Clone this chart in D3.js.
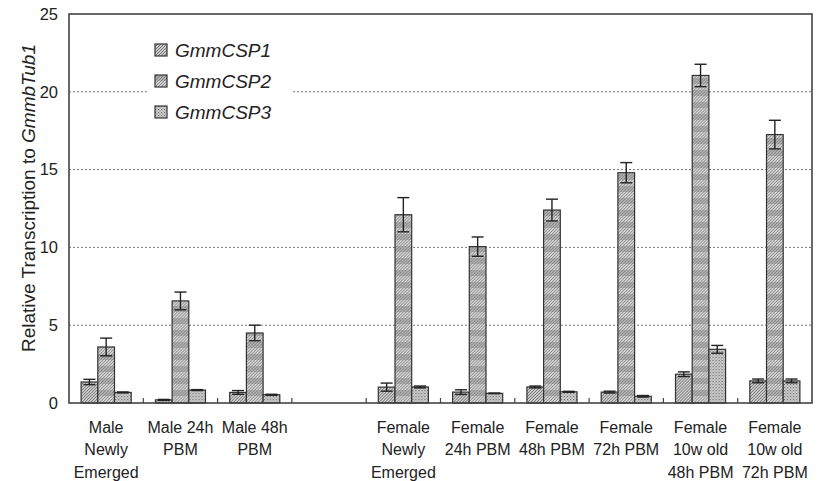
<!DOCTYPE html>
<html>
<head>
<meta charset="utf-8">
<script src="https://cdn.jsdelivr.net/npm/d3@7"></script>
<style>
  body { margin: 0; background: #fff; }
  svg { display: block; font-family: "Liberation Sans", Arial, sans-serif; }
</style>
</head>
<body>
<svg id="chart" width="817" height="481"></svg>
<script>
// categories (the empty one is the gap between male and female groups)
const categories = ["Male Newly Emerged", "Male 24h PBM", "Male 48h PBM", "",
  "Female Newly Emerged", "Female 24h PBM", "Female 48h PBM", "Female 72h PBM",
  "Female 10w old 48h PBM", "Female 10w old 72h PBM"];
const catLines = [["Male", "Newly", "Emerged"], ["Male 24h", "PBM"], ["Male 48h", "PBM"], [],
  ["Female", "Newly", "Emerged"], ["Female", "24h PBM"], ["Female", "48h PBM"], ["Female", "72h PBM"],
  ["Female", "10w old", "48h PBM"], ["Female", "10w old", "72h PBM"]];
const series = ["GmmCSP1", "GmmCSP2", "GmmCSP3"];

const csp1 = [1.35, 0.2, 0.68, null, 1.02, 0.7, 1.03, 0.7, 1.85, 1.42];
const csp1Err = [0.17, 0.03, 0.12, null, 0.26, 0.15, 0.06, 0.06, 0.15, 0.12];
const csp2 = [3.6, 6.56, 4.5, null, 12.1, 10.05, 12.4, 14.8, 21.05, 17.25];
const csp2Err = [0.57, 0.57, 0.5, null, 1.1, 0.62, 0.7, 0.65, 0.72, 0.92];
const csp3 = [0.68, 0.83, 0.53, null, 1.03, 0.62, 0.72, 0.43, 3.45, 1.42];
const csp3Err = [0.03, 0.03, 0.03, null, 0.06, 0.02, 0.03, 0.05, 0.25, 0.12];

const yTicks = [0, 5, 10, 15, 20, 25];

const values = [csp1, csp2, csp3];
const errors = [csp1Err, csp2Err, csp3Err];

const svg = d3.select("#chart");
const margin = { left: 69, right: 5, top: 14, bottom: 78 };
const W = 817, H = 481;

const x = d3.scaleBand().domain(categories.map((c, i) => i)).range([margin.left, W - margin.right]).padding(0);
const y = d3.scaleLinear().domain([0, 25]).range([H - margin.bottom, margin.top]);
const barW = 16.7;
const xs = d3.scaleBand().domain([0, 1, 2]).range([-barW * 1.5, barW * 1.5]);

// patterns
const defs = svg.append("defs");
const p1 = defs.append("pattern").attr("id", "pat0").attr("patternUnits", "userSpaceOnUse")
  .attr("width", 3).attr("height", 3);
p1.append("rect").attr("width", 3).attr("height", 3).attr("fill", "#cdcdcd");
p1.append("path").attr("d", "M0,3 L3,0 M-1,1 L1,-1 M2,4 L4,2").attr("stroke", "#666").attr("stroke-width", 0.9);

const p2 = defs.append("pattern").attr("id", "pat1").attr("patternUnits", "userSpaceOnUse")
  .attr("width", 3).attr("height", 12);
p2.append("rect").attr("width", 3).attr("height", 12).attr("fill", "#d2d2d2");
p2.append("rect").attr("y", 6).attr("width", 3).attr("height", 6).attr("fill", "#b0b0b0");
p2.append("path").attr("d", "M0,3 L3,0 M0,6 L3,3 M0,9 L3,6 M0,12 L3,9 M-1,1 L1,-1 M2,13 L4,11")
  .attr("stroke", "#777").attr("stroke-width", 0.8);

const p3 = defs.append("pattern").attr("id", "pat2").attr("patternUnits", "userSpaceOnUse")
  .attr("width", 3).attr("height", 3);
p3.append("rect").attr("width", 3).attr("height", 3).attr("fill", "#d6d6d6");
p3.append("rect").attr("x", 0).attr("y", 0).attr("width", 1.2).attr("height", 1.2).attr("fill", "#666");
p3.append("rect").attr("x", 1.5).attr("y", 1.5).attr("width", 1.2).attr("height", 1.2).attr("fill", "#888");

// gridlines
svg.append("g").selectAll("line").data(yTicks.filter(t => t > 0 && t < 25)).enter().append("line")
  .attr("x1", margin.left).attr("x2", W - margin.right)
  .attr("y1", d => y(d)).attr("y2", d => y(d))
  .attr("stroke", "#777").attr("stroke-width", 1).attr("stroke-dasharray", "2,2");

// legend background hides grid line
svg.append("rect").attr("x", 148).attr("y", 32).attr("width", 144).attr("height", 96).attr("fill", "#fff");

// bars
const groups = svg.append("g").selectAll("g").data(categories.map((c, i) => i).filter(i => csp1[i] !== null))
  .enter().append("g").attr("transform", i => `translate(${x(i) + x.bandwidth() / 2},0)`);

series.forEach((s, k) => {
  groups.append("rect")
    .attr("x", xs(k)).attr("width", xs.bandwidth())
    .attr("y", i => y(values[k][i])).attr("height", i => y(0) - y(values[k][i]))
    .attr("fill", `url(#pat${k})`).attr("stroke", "#333").attr("stroke-width", 1.2);
});
series.forEach((s, k) => {
  const eb = groups.append("g").attr("stroke", "#222").attr("stroke-width", 1.4);
  const cx = xs(k) + xs.bandwidth() / 2;
  eb.append("line").attr("x1", cx).attr("x2", cx)
    .attr("y1", i => y(values[k][i] + errors[k][i])).attr("y2", i => y(values[k][i] - errors[k][i]));
  eb.append("line").attr("x1", cx - 6).attr("x2", cx + 6)
    .attr("y1", i => y(values[k][i] + errors[k][i])).attr("y2", i => y(values[k][i] + errors[k][i]));
  eb.append("line").attr("x1", cx - 6).attr("x2", cx + 6)
    .attr("y1", i => y(values[k][i] - errors[k][i])).attr("y2", i => y(values[k][i] - errors[k][i]));
});

// frame
svg.append("rect").attr("x", margin.left).attr("y", margin.top)
  .attr("width", W - margin.right - margin.left).attr("height", y(0) - margin.top)
  .attr("fill", "none").attr("stroke", "#444").attr("stroke-width", 1.6);

// x ticks between categories (pointing up)
svg.append("g").selectAll("line").data(categories.map((c, i) => i).slice(1)).enter().append("line")
  .attr("x1", i => x(i)).attr("x2", i => x(i))
  .attr("y1", y(0)).attr("y2", y(0) - 5)
  .attr("stroke", "#444").attr("stroke-width", 1.2);

// y axis labels
const yAxis = d3.axisLeft(y).tickValues(yTicks).tickSize(0).tickPadding(11);
svg.append("g").attr("transform", `translate(${margin.left},0)`).call(yAxis)
  .call(g => g.select(".domain").remove())
  .call(g => g.selectAll("text").attr("fill", "#222").style("font-size", "16.5px")
    .style("font-family", "'Liberation Sans', Arial, sans-serif"));

// x labels
const xl = svg.append("g").selectAll("text").data(categories.map((c, i) => i)).enter().append("text")
  .attr("x", i => x(i) + x.bandwidth() / 2).attr("y", 433)
  .attr("text-anchor", "middle").attr("fill", "#222").style("font-size", "16px");
xl.selectAll("tspan").data(i => catLines[i]).enter().append("tspan")
  .attr("x", function () { return d3.select(this.parentNode).attr("x"); })
  .attr("dy", (d, j) => j === 0 ? 0 : 22.3)
  .text(d => d);

// y title
const yt = svg.append("text").attr("transform", "translate(35,198) rotate(-90)")
  .attr("text-anchor", "middle").attr("fill", "#222").style("font-size", "19px");
yt.append("tspan").text("Relative Transcription to ");
yt.append("tspan").style("font-style", "italic").text("GmmbTub1");

// legend
const lg = svg.append("g").selectAll("g").data(series).enter().append("g")
  .attr("transform", (d, k) => `translate(155,${50 + k * 31})`);
lg.append("rect").attr("x", 0).attr("y", -6).attr("width", 12).attr("height", 12)
  .attr("fill", (d, k) => `url(#pat${k})`).attr("stroke", "#333").attr("stroke-width", 1.2);
lg.append("text").attr("x", 20).attr("y", 0).attr("dy", "0.36em")
  .style("font-size", "19px").style("font-style", "italic").attr("fill", "#222").text(d => d);
</script>
</body>
</html>
